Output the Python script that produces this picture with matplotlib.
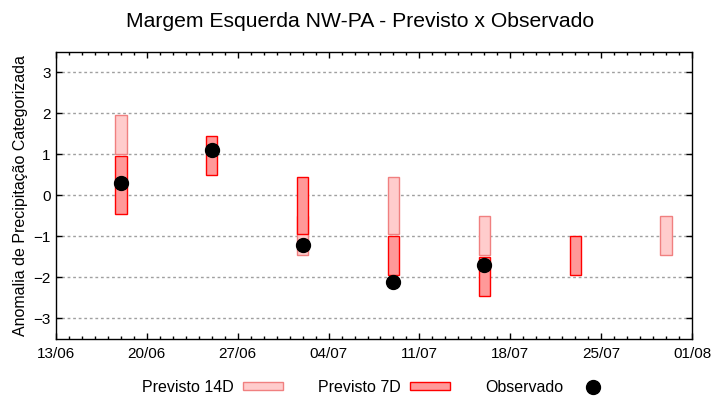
import numpy as np
import pandas as pd
import matplotlib
matplotlib.use('Agg')
import matplotlib.pyplot as plt
import matplotlib.dates as mdates
from matplotlib.patches import Patch
from matplotlib.lines import Line2D

plt.rcParams['font.family'] = ['Liberation Sans', 'DejaVu Sans']

# datas das previsoes
dates = pd.to_datetime(['2023-06-18', '2023-06-25', '2023-07-02', '2023-07-09',
                        '2023-07-16', '2023-07-23', '2023-07-30'])

# previsto 14 dias (limite inferior / superior)
p14_low = [1.0, np.nan, -1.45, -0.95, -1.45, np.nan, -1.45]
p14_high = [1.95, np.nan, -0.5, 0.45, -0.5, np.nan, -0.5]

# previsto 7 dias
p7_low = [-0.45, 0.5, -0.95, -1.95, -2.45, -1.95, np.nan]
p7_high = [0.95, 1.45, 0.45, -1.0, -1.5, -1.0, np.nan]

# observado
obs = [0.3, 1.1, -1.2, -2.1, -1.7, np.nan, np.nan]

xticks = pd.date_range('2023-06-13', '2023-08-01', freq='7D')

fig = plt.figure(figsize=(7.2, 4.0), dpi=100)
ax = fig.add_axes([0.0774, 0.1525, 0.8841, 0.7183])

h14 = np.array(p14_high) - np.array(p14_low)
h7 = np.array(p7_high) - np.array(p7_low)

ax.bar(dates, h14, bottom=p14_low, width=0.9, color='#ffcccc',
       edgecolor='#f08080', linewidth=1.0, zorder=2)
ax.bar(dates, h7, bottom=p7_low, width=0.9, color='#ff9999',
       edgecolor='red', linewidth=1.0, zorder=3)
ax.scatter(dates, obs, s=100, color='black', zorder=4)

ax.set_xlim(xticks[0], xticks[-1])
ax.set_ylim(-3.5, 3.5)
ax.set_yticks(range(-3, 4))
ax.set_xticks(xticks)
ax.xaxis.set_major_formatter(mdates.DateFormatter('%d/%m'))
ax.xaxis.set_minor_locator(mdates.DayLocator())

ax.tick_params(which='both', direction='in', top=True, right=True, labelsize=11)
ax.tick_params(which='major', length=4, width=1)
ax.tick_params(which='minor', length=2.2, width=1)
ax.tick_params(axis='x', pad=6)
ax.tick_params(axis='y', which='minor', left=False, right=False)

ax.grid(axis='y', color='#a0a0a0', linestyle=(0, (2, 2)), linewidth=1, zorder=1)
for s in ax.spines.values():
    s.set_linewidth(1)

ax.set_ylabel('Anomalia de Precipitação Categorizada', fontsize=11.5, labelpad=4)
fig.suptitle('Margem Esquerda NW-PA - Previsto x Observado', fontsize=15.2, y=0.97)

handles = [
    Patch(facecolor='#ffcccc', edgecolor='#f08080', linewidth=1.0),
    Patch(facecolor='#ff9999', edgecolor='red', linewidth=1.0),
    Line2D([], [], marker='o', color='black', linestyle='none', markersize=10),
]
fig.legend(handles, ['Previsto 14D', 'Previsto 7D', 'Observado'], loc='center',
           bbox_to_anchor=(0.524, 0.0325), ncol=3, frameon=False, fontsize=11.5,
           markerfirst=False, handlelength=2.5, handleheight=0.4,
           handletextpad=0.6, columnspacing=2.2)

fig.savefig('out.png', dpi=100)
